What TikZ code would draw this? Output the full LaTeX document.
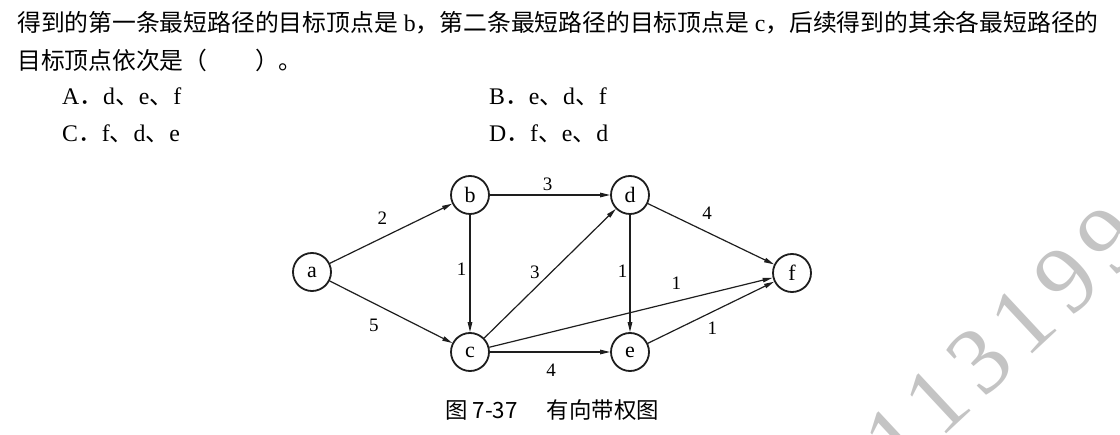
\documentclass[tikz,border=0pt]{standalone}
\usepackage{fontspec}
\setmainfont{Liberation Serif}
\newfontfamily\cjk{Noto Sans CJK SC}
\newfontfamily\wmfont{Liberation Serif}[LetterSpace=12]
\usetikzlibrary{arrows.meta,positioning}
\definecolor{inkblack}{HTML}{1E1E1E}
\definecolor{markgray}{HTML}{C4C4C4}
\newcommand{\dun}{{\cjk 、}}
\newcommand{\qdot}{{\cjk ．}}

\begin{document}
\begin{tikzpicture}[x=1pt,y=-1pt,>={Triangle[length=10pt,width=4.5pt]},
  vertex/.style={circle,draw=inkblack,line width=1.8pt,minimum size=38pt,inner sep=0pt,font=\fontsize{22}{22}\selectfont},
  wt/.style={inner sep=1pt,font=\fontsize{19}{19}\selectfont},
  edge/.style={->,line width=1.2pt,draw=inkblack},
  txt/.style={anchor=west,inner sep=0pt,font=\fontsize{23.8}{28}\selectfont}]
  \useasboundingbox (0,0) rectangle (1120,435);
  \clip (0,0) rectangle (1120,435);
  % watermark
  \node[rotate=43,text=markgray,font=\wmfont\fontsize{95}{95}\selectfont] (mark) at (1003,339) {113199};
  % question
  \node[txt] (q1) at (17,23) {{\cjk 得到的第一条最短路径的目标顶点是} b{\cjk ，第二条最短路径的目标顶点是} c{\cjk ，后续得到的其余各最短路径的}};
  \node[txt] (q2) at (17,60) {\cjk 目标顶点依次是（\hspace{2em}）。};
  \node[txt] (optA) at (62,97) {A\qdot d\dun e\dun f};
  \node[txt] (optB) at (489,97) {B\qdot e\dun d\dun f};
  \node[txt] (optC) at (62,134) {C\qdot f\dun d\dun e};
  \node[txt] (optD) at (489,134) {D\qdot f\dun e\dun d};
  % graph
  \node[vertex] (a) at (312,272) {a};
  \node[vertex] (b) at (470,195) {b};
  \node[vertex] (c) at (470,352) {c};
  \node[vertex] (d) at (630,195) {d};
  \node[vertex] (e) at (630,352) {e};
  \node[vertex] (f) at (792,273) {f};
  \draw[edge] (a) -- (b) node[wt,pos=.43,above=12pt] {2};
  \draw[edge] (a) -- (c) node[wt,pos=.36,below=14pt] {5};
  \draw[edge] (b) -- (d) node[wt,pos=.48,above=3pt] {3};
  \draw[edge] (b) -- (c) node[wt,pos=.46,left=2pt] {1};
  \draw[edge] (c) -- (d) node[wt,pos=.51,left=10pt] {3};
  \draw[edge] (d) -- (e) node[wt,pos=.48,left=1pt] {1};
  \draw[edge] (d) -- (f) node[wt,pos=.47,above=11pt] {4};
  \draw[edge] (c) -- (f) node[wt,pos=.66,above=10pt] {1};
  \draw[edge] (c) -- (e) node[wt,pos=.51,below=10pt] {4};
  \draw[edge] (e) -- (f) node[wt,pos=.51,below=8pt] {1};
  \node[anchor=west,inner sep=0pt,font=\cjk\fontsize{22.4}{22.4}\selectfont] (cap) at (445,410) {图 7-37\hspace{1.3em}有向带权图};
\end{tikzpicture}
\end{document}
